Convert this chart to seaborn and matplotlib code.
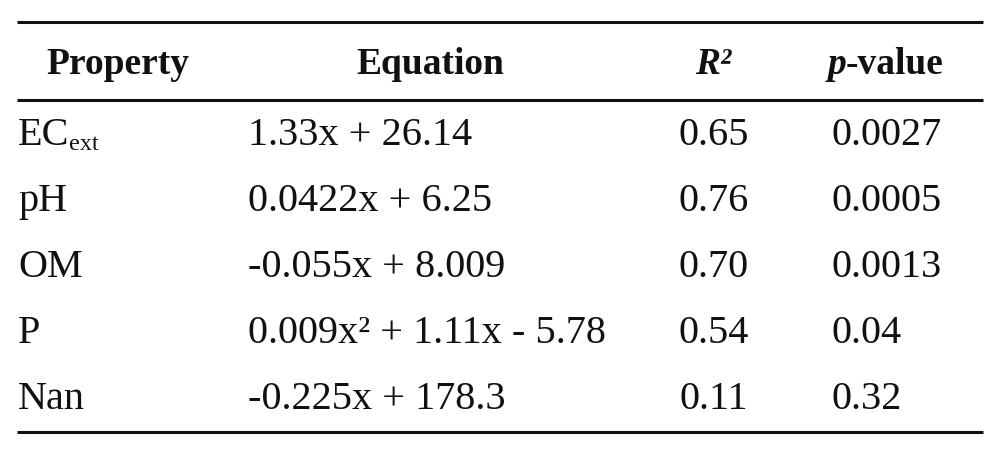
import matplotlib
matplotlib.use("Agg")
import matplotlib.pyplot as plt
import seaborn as sns

sns.set_theme(style="white")
plt.rcParams["font.family"] = ["Liberation Serif", "DejaVu Serif"]
plt.rcParams["text.color"] = "#111111"

# table content
properties = ["EC", "pH", "OM", "P", "Nan"]
prop_subscripts = ["ext", "", "", "", ""]
equations = ["1.33x + 26.14", "0.0422x + 6.25", "-0.055x + 8.009",
             "0.009x² + 1.11x - 5.78", "-0.225x + 178.3"]
r2_values = ["0.65", "0.76", "0.70", "0.54", "0.11"]
p_values = ["0.0027", "0.0005", "0.0013", "0.04", "0.32"]

# layout (pixels)
W, H = 1006, 453
fs_head = 27
fs = 29
header_y = 74
row0_y = 145
row_step = 66
x_prop, x_eq, x_r2, x_p = 18, 248, 714, 832

fig = plt.figure(figsize=(W / 100, H / 100), dpi=100)
ax = fig.add_axes([0, 0, 1, 1])
ax.set_xlim(0, W)
ax.set_ylim(H, 0)
ax.axis("off")

# rules
for y in [22, 100, 432]:
    ax.hlines(y, 17, 983, color="#111111", lw=2.2)

# header
ax.text(118, header_y, "Property", ha="center", va="baseline", fontsize=fs_head, fontweight="bold")
ax.text(430, header_y, "Equation", ha="center", va="baseline", fontsize=fs_head, fontweight="bold")
ax.text(713, header_y, "R²", ha="center", va="baseline", fontsize=fs_head, fontweight="bold", style="italic")
ax.text(846, header_y, "p", ha="right", va="baseline", fontsize=fs_head, fontweight="bold", style="italic")
ax.text(846, header_y, "-value", ha="left", va="baseline", fontsize=fs_head, fontweight="bold")

# body
for i, (prop, sub, eq, r2, p) in enumerate(zip(properties, prop_subscripts, equations, r2_values, p_values)):
    y = row0_y + i * row_step
    t = ax.text(x_prop, y, prop, ha="left", va="baseline", fontsize=fs)
    if sub:
        ax.annotate(sub, xy=(1, 0), xycoords=t, xytext=(0, -1), textcoords="offset points",
                    ha="left", va="bottom", fontsize=fs * 0.6)
    ax.text(x_eq, y, eq, ha="left", va="baseline", fontsize=fs)
    ax.text(x_r2, y, r2, ha="center", va="baseline", fontsize=fs)
    ax.text(x_p, y, p, ha="left", va="baseline", fontsize=fs)

fig.savefig("out.png", dpi=100, facecolor="white")
